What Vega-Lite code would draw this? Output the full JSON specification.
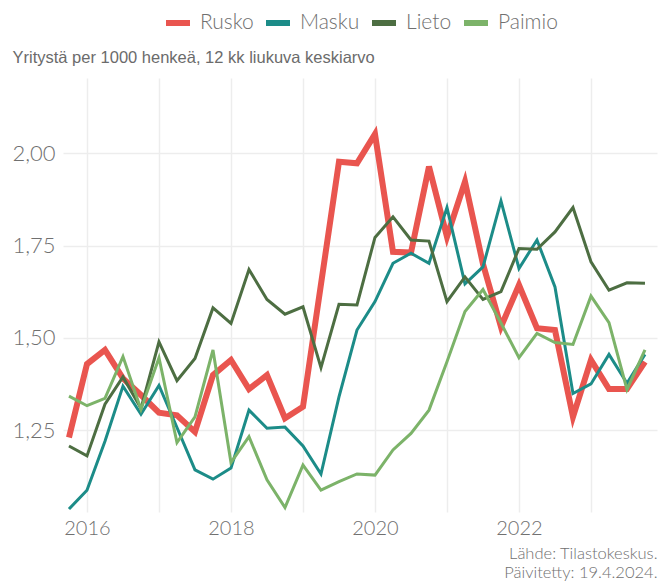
{
  "$schema": "https://vega.github.io/schema/vega-lite/v6.json",
  "width": 594,
  "height": 434,
  "autosize": {"type": "none"},
  "padding": {"left": 63, "top": 78, "right": 6, "bottom": 71},
  "background": "white",
  "config": {"view": {"stroke": null}},
  "data": {"values": [
    {"t": 2015.75, "Rusko": 1.23, "Masku": 1.036, "Lieto": 1.207, "Paimio": 1.342},
    {"t": 2016.0, "Rusko": 1.429, "Masku": 1.087, "Lieto": 1.18, "Paimio": 1.316},
    {"t": 2016.25, "Rusko": 1.467, "Masku": 1.22, "Lieto": 1.32, "Paimio": 1.336},
    {"t": 2016.5, "Rusko": 1.39, "Masku": 1.369, "Lieto": 1.394, "Paimio": 1.449},
    {"t": 2016.75, "Rusko": 1.345, "Masku": 1.293, "Lieto": 1.309, "Paimio": 1.306},
    {"t": 2017.0, "Rusko": 1.297, "Masku": 1.371, "Lieto": 1.489, "Paimio": 1.446},
    {"t": 2017.25, "Rusko": 1.29, "Masku": 1.257, "Lieto": 1.384, "Paimio": 1.216},
    {"t": 2017.5, "Rusko": 1.245, "Masku": 1.142, "Lieto": 1.444, "Paimio": 1.286},
    {"t": 2017.75, "Rusko": 1.399, "Masku": 1.117, "Lieto": 1.581, "Paimio": 1.467},
    {"t": 2018.0, "Rusko": 1.44, "Masku": 1.147, "Lieto": 1.539, "Paimio": 1.162},
    {"t": 2018.25, "Rusko": 1.361, "Masku": 1.304, "Lieto": 1.685, "Paimio": 1.232},
    {"t": 2018.5, "Rusko": 1.399, "Masku": 1.255, "Lieto": 1.604, "Paimio": 1.115},
    {"t": 2018.75, "Rusko": 1.282, "Masku": 1.258, "Lieto": 1.564, "Paimio": 1.04},
    {"t": 2019.0, "Rusko": 1.313, "Masku": 1.207, "Lieto": 1.584, "Paimio": 1.155},
    {"t": 2019.25, "Rusko": 1.645, "Masku": 1.131, "Lieto": 1.419, "Paimio": 1.087},
    {"t": 2019.5, "Rusko": 1.977, "Masku": 1.34, "Lieto": 1.591, "Paimio": 1.11},
    {"t": 2019.75, "Rusko": 1.973, "Masku": 1.521, "Lieto": 1.589, "Paimio": 1.131},
    {"t": 2020.0, "Rusko": 2.052, "Masku": 1.598, "Lieto": 1.772, "Paimio": 1.128},
    {"t": 2020.25, "Rusko": 1.733, "Masku": 1.702, "Lieto": 1.828, "Paimio": 1.196},
    {"t": 2020.5, "Rusko": 1.731, "Masku": 1.729, "Lieto": 1.765, "Paimio": 1.241},
    {"t": 2020.75, "Rusko": 1.964, "Masku": 1.702, "Lieto": 1.762, "Paimio": 1.304},
    {"t": 2021.0, "Rusko": 1.774, "Masku": 1.853, "Lieto": 1.598, "Paimio": 1.435},
    {"t": 2021.25, "Rusko": 1.923, "Masku": 1.646, "Lieto": 1.665, "Paimio": 1.571},
    {"t": 2021.5, "Rusko": 1.70, "Masku": 1.692, "Lieto": 1.604, "Paimio": 1.631},
    {"t": 2021.75, "Rusko": 1.53, "Masku": 1.871, "Lieto": 1.625, "Paimio": 1.54},
    {"t": 2022.0, "Rusko": 1.643, "Masku": 1.688, "Lieto": 1.742, "Paimio": 1.446},
    {"t": 2022.25, "Rusko": 1.526, "Masku": 1.765, "Lieto": 1.74, "Paimio": 1.512},
    {"t": 2022.5, "Rusko": 1.521, "Masku": 1.638, "Lieto": 1.787, "Paimio": 1.487},
    {"t": 2022.75, "Rusko": 1.286, "Masku": 1.349, "Lieto": 1.853, "Paimio": 1.482},
    {"t": 2023.0, "Rusko": 1.44, "Masku": 1.375, "Lieto": 1.706, "Paimio": 1.613},
    {"t": 2023.25, "Rusko": 1.361, "Masku": 1.455, "Lieto": 1.629, "Paimio": 1.541},
    {"t": 2023.5, "Rusko": 1.361, "Masku": 1.377, "Lieto": 1.649, "Paimio": 1.36},
    {"t": 2023.75, "Rusko": 1.435, "Masku": 1.455, "Lieto": 1.648, "Paimio": 1.467}
  ]},
  "transform": [{"fold": ["Rusko", "Masku", "Lieto", "Paimio"], "as": ["kunta", "arvo"]}],
  "mark": {"type": "line"},
  "encoding": {
    "x": {
      "field": "t", "type": "quantitative",
      "scale": {"domain": [2015.667, 2023.917], "nice": false, "zero": false},
      "axis": {
        "values": [2016, 2017, 2018, 2019, 2020, 2021, 2022, 2023],
        "format": "d",
        "labelExpr": "datum.value % 2 == 0 ? datum.label : ''",
        "domain": false, "ticks": false,
        "labelPadding": 6,
        "labelFont": "Lato", "labelFontSize": 20, "labelFontWeight": 300, "labelColor": "#707070",
        "gridColor": "#ededed", "gridWidth": 1.5,
        "title": ["Lähde: Tilastokeskus.", "Päivitetty: 19.4.2024."],
        "titleX": 594, "titleY": 33, "titleAlign": "right", "titleAnchor": null, "titleBaseline": "top",
        "titleFont": "Lato", "titleFontSize": 16.5, "titleFontWeight": 300, "titleColor": "#707070", "titleLineHeight": 19
      }
    },
    "y": {
      "field": "arvo", "type": "quantitative",
      "scale": {"domain": [1.028, 2.204], "nice": false, "zero": false},
      "axis": {
        "values": [1.25, 1.5, 1.75, 2.0],
        "labelExpr": "replace(format(datum.value, '.2f'), '.', ',')",
        "domain": false, "ticks": false,
        "labelPadding": 8,
        "labelFont": "Lato", "labelFontSize": 22, "labelFontWeight": 300, "labelColor": "#707070",
        "gridColor": "#ededed", "gridWidth": 1.5,
        "title": "Yritystä per 1000 henkeä, 12 kk liukuva keskiarvo",
        "titleAngle": 0, "titleAlign": "left", "titleBaseline": "alphabetic",
        "titleX": -51, "titleY": -16,
        "titleFont": "Liberation Sans", "titleFontSize": 16.5, "titleFontWeight": "normal", "titleColor": "#6b6b6b"
      }
    },
    "color": {
      "field": "kunta", "type": "nominal",
      "scale": {"domain": ["Rusko", "Masku", "Lieto", "Paimio"], "range": ["#e9554f", "#1c8c88", "#4d6e42", "#7cb369"]},
      "legend": {
        "title": null, "orient": "none", "direction": "horizontal",
        "legendX": 100, "legendY": -70,
        "symbolType": "stroke", "symbolSize": 576, "symbolStrokeWidth": 6,
        "labelFont": "Lato", "labelFontSize": 21, "labelFontWeight": 300, "labelColor": "#707070",
        "labelOffset": 7, "columnPadding": 0
      }
    },
    "strokeWidth": {
      "condition": {"test": "datum.kunta == 'Rusko'", "value": 6},
      "value": 3
    }
  }
}
